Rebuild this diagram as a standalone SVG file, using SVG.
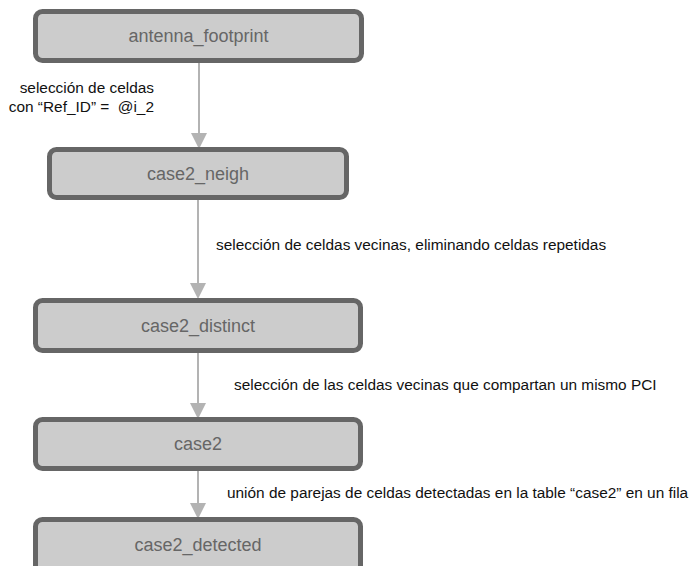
<svg xmlns="http://www.w3.org/2000/svg" width="689" height="566" viewBox="0 0 689 566">
  <style>
    .box { fill: #cccccc; stroke: #666666; stroke-width: 5; }
    .name { font-family: "Liberation Sans", Arial, sans-serif; font-size: 18px; fill: #666666; text-anchor: middle; }
    .lbl { font-family: "Liberation Sans", Arial, sans-serif; font-size: 15.4px; fill: #111111; white-space: pre; }
    .edge { stroke: #b3b3b3; stroke-width: 2; fill: none; }
    .head { fill: #b3b3b3; }
  </style>
  <rect width="689" height="566" fill="#ffffff"/>

  <!-- connectors -->
  <g id="edges">
    <line class="edge" x1="199" y1="63" x2="199" y2="136"/>
    <polygon class="head" points="191,133 207,133 199,149"/>
    <line class="edge" x1="198" y1="200" x2="198" y2="286"/>
    <polygon class="head" points="190,283 206,283 198,299"/>
    <line class="edge" x1="198" y1="353" x2="198" y2="406"/>
    <polygon class="head" points="190,403 206,403 198,419"/>
    <line class="edge" x1="198" y1="471" x2="198" y2="506"/>
    <polygon class="head" points="190,503 206,503 198,519"/>
  </g>

  <!-- edge labels -->
  <g id="labels">
    <text class="lbl" x="154" y="93" text-anchor="end">selección de celdas</text>
    <text class="lbl" x="154" y="112" text-anchor="end">con “Ref_ID” =  @i_2</text>
    <text class="lbl" x="216" y="250">selección de celdas vecinas, eliminando celdas repetidas</text>
    <text class="lbl" x="234" y="390">selección de las celdas vecinas que compartan un mismo PCI</text>
    <text class="lbl" x="227" y="498">unión de parejas de celdas detectadas en la table “case2” en un fila</text>
  </g>

  <!-- nodes -->
  <g id="antenna_footprint">
    <rect class="box" x="35.5" y="11.5" width="326" height="49" rx="7"/>
    <text class="name" x="198.5" y="42">antenna_footprint</text>
  </g>
  <g id="case2_neigh">
    <rect class="box" x="49.5" y="149.5" width="297" height="48" rx="7"/>
    <text class="name" x="198" y="180">case2_neigh</text>
  </g>
  <g id="case2_distinct">
    <rect class="box" x="35.5" y="300.5" width="325" height="50" rx="7"/>
    <text class="name" x="198" y="332">case2_distinct</text>
  </g>
  <g id="case2">
    <rect class="box" x="35.5" y="419.5" width="325" height="49" rx="7"/>
    <text class="name" x="198" y="450">case2</text>
  </g>
  <g id="case2_detected">
    <rect class="box" x="35.5" y="519.5" width="325" height="60" rx="7"/>
    <text class="name" x="198" y="551">case2_detected</text>
  </g>
</svg>
